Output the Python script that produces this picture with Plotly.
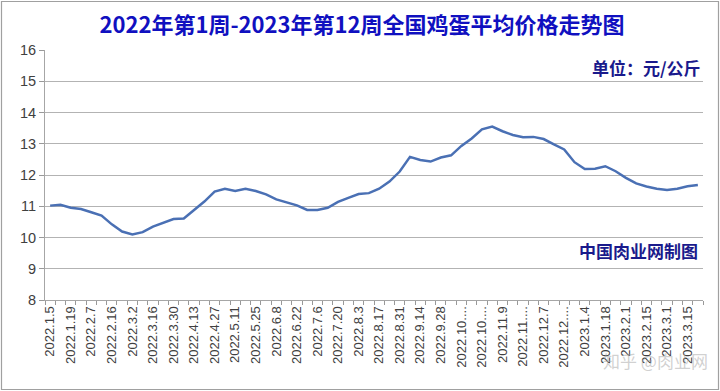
import plotly.graph_objects as go

weeks = [
    "2022.1.5", "2022.1.12", "2022.1.19", "2022.1.26", "2022.2.7", "2022.2.9",
    "2022.2.16", "2022.2.23", "2022.3.2", "2022.3.9", "2022.3.16", "2022.3.23",
    "2022.3.30", "2022.4.6", "2022.4.13", "2022.4.20", "2022.4.27", "2022.5.4",
    "2022.5.11", "2022.5.18", "2022.5.25", "2022.6.1", "2022.6.8", "2022.6.15",
    "2022.6.22", "2022.6.29", "2022.7.6", "2022.7.13", "2022.7.20", "2022.7.27",
    "2022.8.3", "2022.8.10", "2022.8.17", "2022.8.24", "2022.8.31", "2022.9.7",
    "2022.9.14", "2022.9.21", "2022.9.28", "2022.10.5", "2022.10.12", "2022.10.19",
    "2022.10.26", "2022.11.2", "2022.11.9", "2022.11.16", "2022.11.23", "2022.11.30",
    "2022.12.7", "2022.12.14", "2022.12.21", "2022.12.28", "2023.1.4", "2023.1.11",
    "2023.1.18", "2023.1.25", "2023.2.1", "2023.2.8", "2023.2.15", "2023.2.22",
    "2023.3.1", "2023.3.8", "2023.3.15", "2023.3.22",
]

prices = [
    11.02, 11.05, 10.95, 10.91, 10.81, 10.70, 10.42, 10.19, 10.10, 10.17,
    10.35, 10.47, 10.59, 10.61, 10.88, 11.15, 11.47, 11.56, 11.49, 11.56,
    11.49, 11.38, 11.22, 11.13, 11.03, 10.88, 10.88, 10.95, 11.14, 11.27,
    11.39, 11.42, 11.56, 11.79, 12.11, 12.58, 12.48, 12.43, 12.56, 12.63,
    12.93, 13.17, 13.46, 13.55, 13.40, 13.28, 13.21, 13.22, 13.15, 12.98,
    12.82, 12.41, 12.19, 12.20, 12.28, 12.12, 11.91, 11.73, 11.63, 11.56,
    11.52, 11.56, 11.64, 11.68,
]

def short(lbl):
    return lbl if len(lbl) <= 9 else lbl[:7] + "...."

tick_text = [short(w) if i % 2 == 0 else "" for i, w in enumerate(weeks)]

title_text = "2022年第1周-2023年第12周全国鸡蛋平均价格走势图"
unit_text = "单位：元/公斤"
source_text = "中国肉业网制图"
watermark_text = "知乎 @肉业网"

fig = go.Figure()
fig.add_trace(go.Scatter(
    x=weeks, y=prices, mode="lines",
    line=dict(color="#4a70b4", width=2.5, shape="linear"),
    hoverinfo="x+y",
))

L, R, T, B = 45, 17, 50, 91
W, H = 720, 391
pw, ph = W - L - R, H - T - B

fig.update_layout(
    width=W, height=H,
    margin=dict(l=L, r=R, t=T, b=B, autoexpand=False),
    paper_bgcolor="white", plot_bgcolor="white",
    showlegend=False,
    font=dict(family="Noto Sans CJK SC, Noto Sans, sans-serif", color="#333333"),
    title=dict(
        text="<b>" + title_text + "</b>",
        x=362 / W, xanchor="center", y=1 - 25 / H, yanchor="middle",
        font=dict(size=22, color="#1010c0", family="Noto Sans CJK SC"),
    ),
    xaxis=dict(
        type="category", automargin=False,
        tickmode="array", tickvals=weeks, ticktext=tick_text,
        tickson="boundaries",
        ticks="outside", ticklen=4, tickcolor="#999999",
        tickangle=-90,
        tickfont=dict(size=13, color="#404040", family="Liberation Sans, Arial, sans-serif"),
        showgrid=False,
        showline=True, linecolor="#a6a6a6", linewidth=1,
        range=[-0.5, len(weeks) - 0.5],
        fixedrange=True,
    ),
    yaxis=dict(
        range=[8, 16], dtick=1, tick0=8, automargin=False,
        ticks="outside", ticklen=5, tickcolor="#999999",
        tickfont=dict(size=14.5, color="#404040", family="Liberation Sans, Arial, sans-serif"),
        showgrid=True, gridcolor="#b3b3b3", gridwidth=1,
        showline=True, linecolor="#a6a6a6", linewidth=1,
        zeroline=False,
        fixedrange=True,
    ),
)

fig.add_annotation(
    text="<b>" + unit_text + "</b>", xref="paper", yref="paper",
    x=1.0, y=1 - (67 - T) / ph, xanchor="right", yanchor="middle",
    showarrow=False, font=dict(size=17, color="#1a1a8c", family="Noto Sans CJK SC"),
)
fig.add_annotation(
    text="<b>" + source_text + "</b>", xref="paper", yref="paper",
    x=(700 - L) / pw, y=1 - (250 - T) / ph, xanchor="right", yanchor="middle",
    showarrow=False, font=dict(size=17, color="#1a1a8c", family="Noto Sans CJK SC"),
)
fig.add_annotation(
    text=watermark_text, xref="paper", yref="paper",
    x=(655 - L) / pw, y=-(360 - (T + ph)) / ph, xanchor="center", yanchor="middle",
    showarrow=False, font=dict(size=17, color="rgba(170,170,170,0.55)", family="Noto Sans CJK SC"),
)

fig.add_shape(
    type="rect", xref="paper", yref="paper",
    x0=(1.5 - L) / pw, x1=(718.5 - L) / pw,
    y0=-(389.5 - (T + ph)) / ph, y1=1 + (T - 1.5) / ph,
    line=dict(color="#a0a0a0", width=1.2), fillcolor="rgba(0,0,0,0)", layer="below",
)

fig.write_html(
    "out.html",
    config={"displayModeBar": False},
    post_script="document.body.style.margin='0';document.body.style.padding='0';",
)
